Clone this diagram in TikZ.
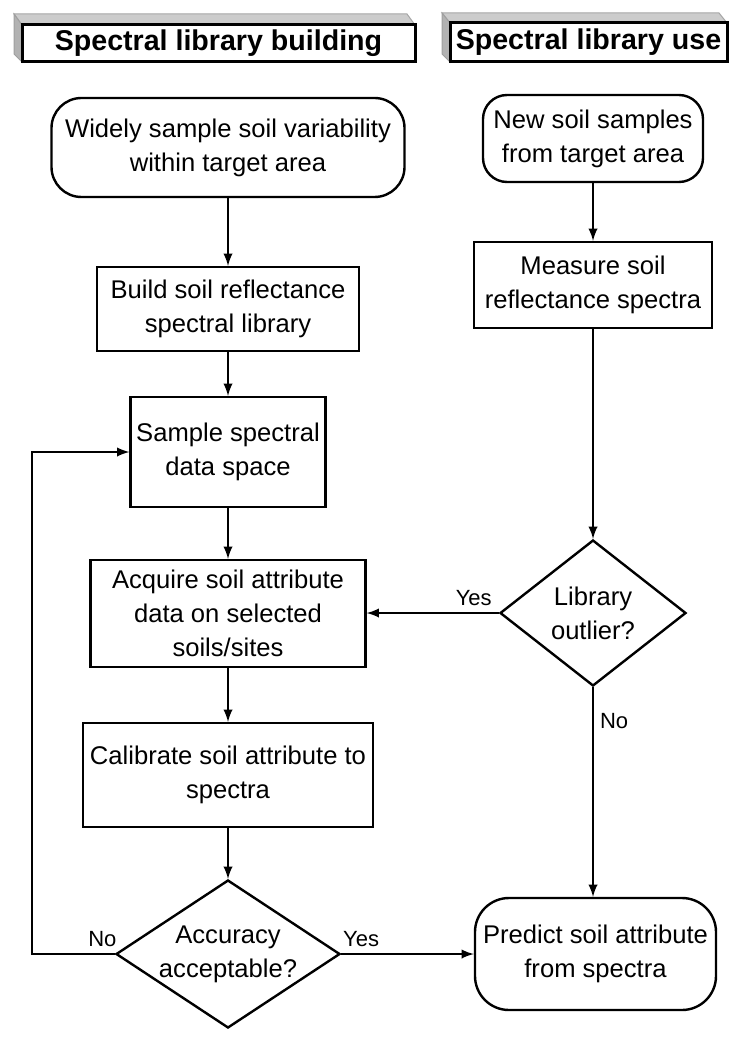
\documentclass[tikz,border=0pt]{standalone}
\usepackage{fontspec}
\setmainfont{Liberation Sans}
\usepackage{tikz}
\usetikzlibrary{calc,shapes.geometric,arrows}
\def\colBuild{228}
\def\colUse{593}
\tikzstyle{arrow} = [line width=1.1pt,->,>=latex]

\begin{document}
\begin{tikzpicture}[x=0.5pt,y=-0.5pt,line width=1.1pt]
    \tikzstyle{every node}=[font=\fontsize{12.8}{17}\selectfont]
    \tikzstyle{stepbox}=[rectangle,draw=black,line width=1.2pt,align=center,inner sep=1pt]
    \tikzstyle{endbox}=[stepbox,rounded corners=15pt]
    \tikzstyle{decision}=[diamond,draw=black,line width=1.2pt,align=center,inner sep=-1pt]
    \tikzstyle{header}=[rectangle,draw=black,line width=1.5pt,fill=white,inner sep=0pt,font=\fontsize{14.3}{17}\selectfont\bfseries]
    \tikzstyle{answer}=[font=\fontsize{11}{13}\selectfont,inner sep=1pt]
    \tikzstyle{top bevel}=[fill=gray!40,draw=gray!70,line width=0.5pt]
    \tikzstyle{side bevel}=[fill=gray!60,draw=gray!75,line width=0.5pt]

    \useasboundingbox (0,0) rectangle (740,1048);

    % Draw the raised edges of the two headers
    \path[top bevel] (22,25) -- (14,14) -- (407,14) -- (415,25) -- cycle;
    \path[side bevel] (22,25) -- (14,14) -- (14,54) -- (22,62) -- cycle;
    \path[top bevel] (450,23) -- (442,13) -- (719,13) -- (727,23) -- cycle;
    \path[side bevel] (450,23) -- (442,13) -- (442,54) -- (450,62) -- cycle;

    % Draw the headers
    \path node[header,minimum width=196.5pt,minimum height=18.5pt] (H-1) at (218.5,43.5) {Spectral library building};
    \path node[header,minimum width=138.5pt,minimum height=19.5pt] (H-2) at (588.5,42.5) {Spectral library use};

    % Draw the library building steps
    \path node[endbox,minimum width=176.5pt,minimum height=49.5pt] (B-1) at (\colBuild,147.5)
        {Widely sample soil variability\\within target area};
    \path node[stepbox,minimum width=131pt,minimum height=42pt] (B-2) at (\colBuild,309)
        {Build soil reflectance\\spectral library};
    \path node[stepbox,minimum width=97.5pt,minimum height=55pt] (B-3) at (\colBuild,452)
        {Sample spectral\\data space};
    \path node[stepbox,minimum width=137.5pt,minimum height=53.5pt] (B-4) at (\colBuild,613.5)
        {Acquire soil attribute\\data on selected\\soils/sites};
    \path node[stepbox,minimum width=145pt,minimum height=52pt] (B-5) at (\colBuild,775)
        {Calibrate soil attribute to\\spectra};
    \path node[decision,aspect=1.5,minimum width=112pt,minimum height=74pt] (B-6) at (\colBuild,954)
        {Accuracy\\acceptable?};

    % Draw the library use steps
    \path node[endbox,rounded corners=12pt,minimum width=110pt,minimum height=43.5pt] (U-1) at (\colUse,138.5)
        {New soil samples\\from target area};
    \path node[stepbox,minimum width=119pt,minimum height=43pt] (U-2) at (\colUse,285)
        {Measure soil\\reflectance spectra};
    \path node[decision,aspect=1,minimum width=93pt,minimum height=73pt] (U-3) at (\colUse,613)
        {Library\\outlier?};
    \path node[endbox,rounded corners=17pt,minimum width=120.5pt,minimum height=56pt] (U-4) at (595.5,954)
        {Predict soil attribute\\from spectra};

    % Connect the steps
    \foreach \from / \to in {B-1/B-2,B-2/B-3,B-3/B-4,B-4/B-5,B-5/B-6,U-1/U-2,U-2/U-3}
        \draw[arrow] (\from.south) -- (\to.north);
    \draw[arrow] (U-3.south) -- node[answer,pos=0.16,right=2pt] {No} (U-3.south |- U-4.north);
    \draw[arrow] (U-3.west) -- node[answer,pos=0.19,above=2pt] {Yes} (U-3.west -| B-4.east);
    \draw[arrow] (B-6.east) -- node[answer,pos=0.15,above=2pt] {Yes} (B-6.east -| U-4.west);

    % Loop back when accuracy is not acceptable
    \coordinate (back) at (32,954);
    \draw[arrow] (B-6.west) -- node[answer,pos=0.15,above=2pt] {No} (back) |- (B-3.west);

\end{tikzpicture}
\end{document}
